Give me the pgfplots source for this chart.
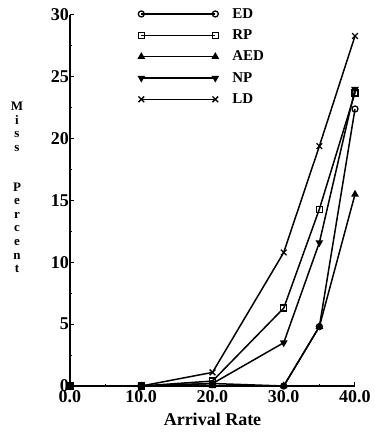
\documentclass[border=0pt]{standalone}
\usepackage{fontspec}
\setmainfont{Liberation Serif}
\usepackage{pgfplots}
\pgfplotsset{compat=1.18}
\begin{document}
\begin{tikzpicture}
\begin{axis}[name=ax, scale only axis, width=285pt, height=371pt,
  xmin=0, xmax=40, ymin=0, ymax=30,
  axis lines*=left,
  axis line style={line width=1.8pt},
  xtick={0,10,...,40}, ytick={0,5,...,30},
  minor x tick num=1, minor y tick num=1,
  major tick length=4pt, minor tick length=2pt,
  tick style={black, line width=1pt},
  /pgf/number format/assume math mode=true,
  xticklabel style={/pgf/number format/fixed, /pgf/number format/fixed zerofill, /pgf/number format/precision=1, inner sep=2pt, yshift=-2pt},
  yticklabel style={inner sep=1pt},
  tick label style={font=\fontsize{18}{18}\selectfont\bfseries},
  xlabel={Arrival Rate},
  xlabel style={font=\fontsize{18}{18}\selectfont\bfseries, inner sep=0pt, yshift=-8pt},
  clip=false,
  every axis plot/.append style={black, line width=1.5pt, mark size=3pt, mark options={solid, line width=1.3pt, fill=white}},
  legend image code/.code={\draw[#1] plot coordinates {(0pt,0pt) (74pt,0pt)};},
  legend style={at={(rel axis cs:0.239,1.024)}, anchor=north west, draw=none, fill=none,
    inner sep=0pt, row sep=6pt, column sep=12pt,
    font=\fontsize{15}{15}\selectfont\bfseries, cells={anchor=west}, nodes={inner sep=2pt}},
]
\addplot[mark=o] coordinates {(0,0) (10,0) (20,0.2) (30,0) (35,4.8) (40,22.4)};
\addlegendentry{ED}
\addplot[mark=square] coordinates {(0,0) (10,0) (20,0.4) (30,6.3) (35,14.3) (40,23.7)};
\addlegendentry{RP}
\addplot[mark=triangle*, mark options={fill=black}] coordinates {(0,0) (10,0) (20,0) (30,0) (35,4.8) (40,15.5)};
\addlegendentry{AED}
\addplot[mark=triangle*, mark options={rotate=180, fill=black}] coordinates {(0,0) (10,0) (20,0.2) (30,3.5) (35,11.6) (40,24.0)};
\addlegendentry{NP}
\addplot[mark=x, mark size=4pt] coordinates {(0,0) (10,0) (20,1.1) (30,10.8) (35,19.4) (40,28.3)};
\addlegendentry{LD}
\node[font=\fontsize{13}{13.6}\selectfont\bfseries, xshift=-53pt] at (rel axis cs:0,0.531)
  {\begin{tabular}{@{}c@{}}M\\i\\s\\s\\[26pt]P\\e\\r\\c\\e\\n\\t\end{tabular}};
\end{axis}
\pgfresetboundingbox
\path ([shift={(-70pt,-48pt)}]ax.south west) rectangle ([shift={(20pt,15pt)}]ax.north east);
\end{tikzpicture}
\end{document}
